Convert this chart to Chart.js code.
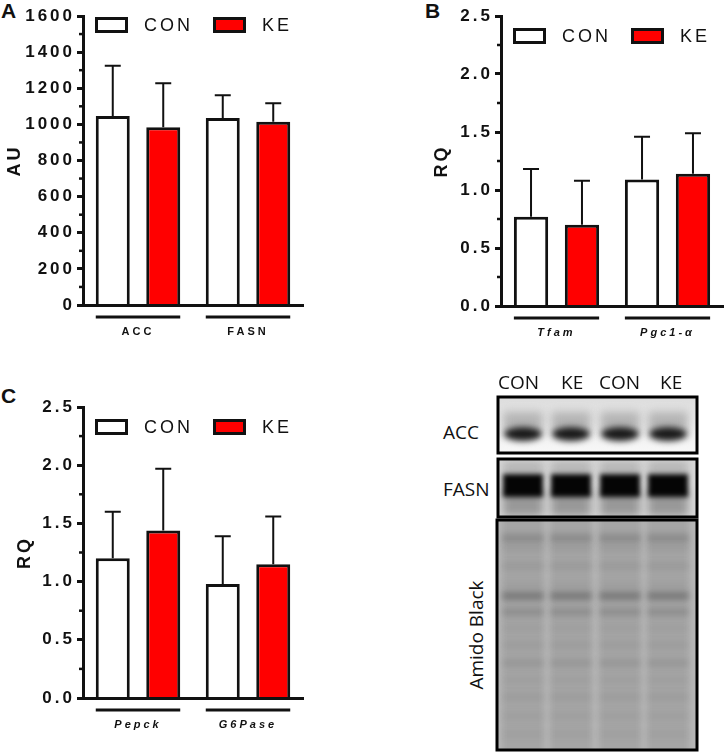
<!DOCTYPE html>
<html>
<head>
<meta charset="utf-8">
<script src="https://cdn.jsdelivr.net/npm/chart.js@4.4.0/dist/chart.umd.min.js"></script>
<style>
    body { margin: 0; background: #fff; width: 726px; height: 754px; position: relative; overflow: hidden; font-family: "Liberation Sans", Arial, sans-serif; }
    canvas { position: absolute; }
    .letra { position: absolute; font-weight: bold; font-size: 21px; line-height: 1; color: #111; }
    .blot-txt { position: absolute; font-family: "Open Sans", sans-serif; font-size: 19px; line-height: 1; color: #111; }
</style>
</head>
<body>
<div class="letra" style="left:1px;top:0px">A</div>
<div class="letra" style="left:425px;top:0px">B</div>
<div class="letra" style="left:1px;top:385px">C</div>

<canvas id="graficoA" width="363" height="345" style="left:0;top:0"></canvas>
<canvas id="graficoB" width="306" height="345" style="left:420px;top:0"></canvas>
<canvas id="graficoC" width="363" height="384" style="left:0;top:370px"></canvas>
<canvas id="blot" width="236" height="384" style="left:490px;top:370px"></canvas>

<div class="blot-txt" style="left:498px;top:373px">CON</div>
<div class="blot-txt" style="left:561px;top:373px">KE</div>
<div class="blot-txt" style="left:599px;top:373px">CON</div>
<div class="blot-txt" style="left:660px;top:373px">KE</div>
<div class="blot-txt" style="left:443px;top:423px">ACC</div>
<div class="blot-txt" style="left:443px;top:480px">FASN</div>
<div class="blot-txt" style="left:476px;top:635px;transform:translate(-50%,-50%) rotate(-90deg);white-space:nowrap">Amido Black</div>

<script>
    /*      DATOS      */
    var series = ['CON', 'KE'];
    var coloresSeries = ['#ffffff', '#ff0000'];

    var categoriasA = ['ACC', 'FASN'];
    var conA = [1046, 1035];
    var keA = [984, 1015];
    var errConA = [279, 126];
    var errKeA = [243, 102];

    var categoriasB = ['Tfam', 'Pgc1-α'];
    var conB = [0.77, 1.09];
    var keB = [0.70, 1.14];
    var errConB = [0.41, 0.37];
    var errKeB = [0.38, 0.35];

    var categoriasC = ['Pepck', 'G6Pase'];
    var conC = [1.20, 0.98];
    var keC = [1.44, 1.15];
    var errConC = [0.40, 0.41];
    var errKeC = [0.53, 0.41];

    var FUENTE = '"Liberation Sans", Arial, sans-serif';
    var NEGRO = '#111';

    Chart.defaults.font.family = FUENTE;
    Chart.defaults.color = NEGRO;

    // barras de error (solo hacia arriba)
    var pluginError = {
        id: 'barrasError',
        afterDatasetsDraw: function(chart) {
            var ctx = chart.ctx;
            var y = chart.scales.y;
            ctx.save();
            ctx.strokeStyle = NEGRO;
            ctx.lineWidth = 2;
            chart.data.datasets.forEach(function(ds, i) {
                var meta = chart.getDatasetMeta(i);
                meta.data.forEach(function(bar, j) {
                    var arriba = y.getPixelForValue(ds.data[j] + ds.errores[j]);
                    ctx.beginPath();
                    ctx.moveTo(bar.x, bar.y);
                    ctx.lineTo(bar.x, arriba);
                    ctx.moveTo(bar.x - 8, arriba);
                    ctx.lineTo(bar.x + 8, arriba);
                    ctx.stroke();
                });
            });
            ctx.restore();
        }
    };

    // ticks menores, lineas bajo categorias, leyenda
    var pluginExtras = {
        id: 'extras',
        beforeLayout: function(chart) {
            chart.ctx.letterSpacing = '3px';
        },
        beforeDraw: function(chart) {
            chart.ctx.letterSpacing = '3px';
        },
        afterDraw: function(chart, args, opts) {
            var ctx = chart.ctx;
            var area = chart.chartArea;
            var y = chart.scales.y;
            ctx.save();
            ctx.strokeStyle = NEGRO;

            // ticks menores
            ctx.lineWidth = 2.5;
            for (var t = 0; t < y.ticks.length - 1; t++) {
                var py = y.getPixelForValue((y.ticks[t].value + y.ticks[t + 1].value) / 2);
                ctx.beginPath();
                ctx.moveTo(area.left - 4, py);
                ctx.lineTo(area.left, py);
                ctx.stroke();
            }

            // lineas bajo cada grupo
            ctx.lineWidth = 3;
            chart.data.labels.forEach(function(lab, j) {
                var x0 = Infinity, x1 = -Infinity;
                chart.data.datasets.forEach(function(ds, i) {
                    var bar = chart.getDatasetMeta(i).data[j];
                    x0 = Math.min(x0, bar.x - bar.width / 2);
                    x1 = Math.max(x1, bar.x + bar.width / 2);
                });
                ctx.beginPath();
                ctx.moveTo(x0, area.bottom + 12);
                ctx.lineTo(x1, area.bottom + 12);
                ctx.stroke();
            });

            // leyenda
            ctx.letterSpacing = '3px';
            ctx.font = '18px ' + FUENTE;
            ctx.textBaseline = 'middle';
            chart.data.datasets.forEach(function(ds, i) {
                var bx = area.left + 12 + i * 118;
                var by = area.top + opts.leyendaTop;
                ctx.fillStyle = ds.backgroundColor;
                ctx.fillRect(bx + 1.5, by + 1.5, 30, 13);
                ctx.lineWidth = 3;
                ctx.strokeRect(bx + 1.5, by + 1.5, 30, 13);
                ctx.fillStyle = NEGRO;
                ctx.fillText(ds.label, bx + 49, by + 9);
            });
            ctx.restore();
        }
    };

    function crearGrafico(id, categorias, con, ke, errCon, errKe, conf) {
        var ctx = document.getElementById(id).getContext('2d');
        return new Chart(ctx, {
            type: 'bar',
            data: {
                labels: categorias,
                datasets: [{
                    label: series[0],
                    data: con,
                    errores: errCon,
                    backgroundColor: coloresSeries[0],
                    borderColor: NEGRO,
                    borderWidth: 3,
                    borderSkipped: 'start'
                }, {
                    label: series[1],
                    data: ke,
                    errores: errKe,
                    backgroundColor: coloresSeries[1],
                    borderColor: NEGRO,
                    borderWidth: 3,
                    borderSkipped: 'start'
                }]
            },
            options: {
                responsive: false,
                animation: false,
                categoryPercentage: 0.918,
                barPercentage: 0.673,
                layout: {
                    padding: { top: conf.top, right: conf.right, left: 0, bottom: 0 }
                },
                plugins: {
                    legend: { display: false },
                    tooltip: { enabled: false },
                    extras: { leyendaTop: conf.leyendaTop }
                },
                scales: {
                    x: {
                        grid: { display: false, drawTicks: false },
                        border: { width: 3, color: NEGRO, z: 1 },
                        ticks: {
                            padding: 20,
                            z: 1,
                            autoSkip: false,
                            maxRotation: 0,
                            color: NEGRO,
                            font: { size: 11, weight: 'bold', style: conf.cursiva ? 'italic' : 'normal' }
                        },
                        afterFit: function(s) { s.height = conf.altoX; }
                    },
                    y: {
                        min: 0,
                        max: conf.max,
                        ticks: {
                            stepSize: conf.paso,
                            padding: 2,
                            z: 1,
                            color: NEGRO,
                            font: { size: 17, weight: 'bold' },
                            callback: function(v) { return conf.decimales ? v.toFixed(1) : v; }
                        },
                        grid: { drawOnChartArea: false, tickLength: 6, tickWidth: 3, tickColor: NEGRO },
                        border: { width: 3, color: NEGRO },
                        title: {
                            display: true,
                            text: conf.titulo,
                            color: NEGRO,
                            font: { size: 18, weight: 'bold' },
                            padding: { top: conf.padTitulo, bottom: 0 }
                        },
                        afterFit: function(s) { s.width = conf.anchoY; }
                    }
                }
            },
            plugins: [pluginError, pluginExtras]
        });
    }

    crearGrafico('graficoA', categoriasA, conA, keA, errConA, errKeA, {
        top: 16, right: 60, altoX: 40, anchoY: 83, max: 1600, paso: 200,
        decimales: false, titulo: 'AU', padTitulo: 4, leyendaTop: 1, cursiva: false
    });
    crearGrafico('graficoB', categoriasB, conB, keB, errConB, errKeB, {
        top: 16, right: 3, altoX: 39, anchoY: 81, max: 2.5, paso: 0.5,
        decimales: true, titulo: 'RQ', padTitulo: 11, leyendaTop: 12, cursiva: true
    });
    crearGrafico('graficoC', categoriasC, conC, keC, errConC, errKeC, {
        top: 37, right: 60, altoX: 56, anchoY: 83, max: 2.5, paso: 0.5,
        decimales: true, titulo: 'RQ', padTitulo: 14, leyendaTop: 12, cursiva: true
    });

    /*      WESTERN BLOT (imagen decorativa)      */
    var carriles = [523, 571, 620, 668];
    var bandasAmido = [
        [538, 0.26], [548, 0.08], [566, 0.1], [585, 0.05],
        [596, 0.42], [612, 0.22], [628, 0.06], [645, 0.08], [663, 0.13],
        [680, 0.05], [697, 0.08], [716, 0.05], [734, 0.04]
    ];

    function dibujarBlot() {
        var ctx = document.getElementById('blot').getContext('2d');
        ctx.translate(-490, -370);

        // ACC
        var g = ctx.createLinearGradient(0, 397, 0, 453);
        g.addColorStop(0, '#dcdcdc');
        g.addColorStop(0.5, '#ececec');
        g.addColorStop(1, '#f8f8f8');
        ctx.fillStyle = g;
        ctx.fillRect(498, 397, 199, 56);
        ctx.save();
        ctx.beginPath();
        ctx.rect(498, 397, 199, 56);
        ctx.clip();
        ctx.filter = 'blur(5px)';
        carriles.forEach(function(cx) {
            ctx.fillStyle = 'rgba(100,100,100,0.4)';
            ctx.fillRect(cx - 20, 412, 40, 20);
        });
        ctx.filter = 'blur(3px)';
        carriles.forEach(function(cx) {
            ctx.fillStyle = 'rgba(15,15,15,0.95)';
            ctx.beginPath();
            ctx.ellipse(cx, 434, 19, 7, 0, 0, Math.PI * 2);
            ctx.fill();
        });
        ctx.restore();

        // FASN
        ctx.fillStyle = '#d8d8d8';
        ctx.fillRect(498, 459, 199, 58);
        ctx.save();
        ctx.beginPath();
        ctx.rect(498, 459, 199, 58);
        ctx.clip();
        ctx.filter = 'blur(4px)';
        carriles.forEach(function(cx) {
            ctx.fillStyle = 'rgba(100,100,100,0.55)';
            ctx.fillRect(cx - 20, 490, 40, 26);
            ctx.fillStyle = 'rgba(130,130,130,0.4)';
            ctx.fillRect(cx - 20, 461, 40, 14);
        });
        ctx.filter = 'blur(2.5px)';
        carriles.forEach(function(cx) {
            ctx.fillStyle = '#050505';
            ctx.fillRect(cx - 20, 474, 40, 23);
        });
        ctx.restore();

        // Amido Black
        ctx.fillStyle = '#b7b7b7';
        ctx.fillRect(497, 520, 200, 230);
        ctx.save();
        ctx.beginPath();
        ctx.rect(497, 520, 200, 230);
        ctx.clip();
        ctx.filter = 'blur(3px)';
        carriles.forEach(function(cx) {
            ctx.fillStyle = '#a5a5a5';
            ctx.fillRect(cx - 21, 515, 42, 240);
            bandasAmido.forEach(function(b) {
                ctx.fillStyle = 'rgba(60,60,60,' + b[1] + ')';
                ctx.fillRect(cx - 21, b[0] - 4, 42, 8);
            });
        });
        ctx.restore();

        // bordes
        ctx.strokeStyle = '#000';
        ctx.lineWidth = 3;
        ctx.strokeRect(498, 397, 199, 56);
        ctx.strokeRect(498, 459, 199, 58);
        ctx.strokeRect(497, 520, 200, 230);
    }
    dibujarBlot();
</script>
</body>
</html>
